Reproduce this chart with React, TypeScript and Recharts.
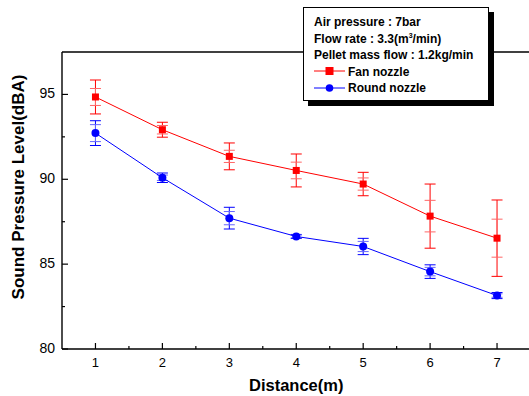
import React from 'react';
import { ComposedChart, Line, XAxis, YAxis, ErrorBar, Legend } from 'recharts';

const distance = [1, 2, 3, 4, 5, 6, 7];
const fanNozzle = [94.85, 92.92, 91.35, 90.52, 89.72, 87.83, 86.53];
const fanOuterErr = [1.0, 0.44, 0.79, 0.97, 0.69, 1.89, 2.25];
const fanInnerErr = [0.5, 0.25, 0.36, 0.49, 0.36, 0.93, 1.12];
const roundNozzle = [92.72, 90.09, 87.71, 86.63, 86.04, 84.56, 83.15];
const roundOuterErr = [0.73, 0.28, 0.64, 0.12, 0.48, 0.4, 0.18];
const roundInnerErr = [0.5, 0.16, 0.39, 0.08, 0.3, 0.25, 0.1];

const xTicks = [1, 1.5, 2, 2.5, 3, 3.5, 4, 4.5, 5, 5.5, 6, 6.5, 7];
const yTicks = [80, 82.5, 85, 87.5, 90, 92.5, 95];
const majorYTicks = [80, 85, 90, 95];

const legendHeaderLines = ['Air pressure : 7bar', 'Flow rate : 3.3(m', 'Pellet mass flow : 1.2kg/min'];

const data = distance.map((d, i) => ({
  distance: d,
  fan: fanNozzle[i],
  fanOuter: fanOuterErr[i],
  fanInner: fanInnerErr[i],
  round: roundNozzle[i],
  roundOuter: roundOuterErr[i],
  roundInner: roundInnerErr[i],
}));

const FONT = '"Liberation Sans", Arial, Helvetica, sans-serif';
const RED = '#ff0000';
const BLUE = '#0000ff';
const RED_LIGHT = '#ff6666';
const BLUE_LIGHT = '#6666ff';

const XTick = (props: any) => {
  const { x, y, payload } = props;
  const v = payload.value;
  const major = Number.isInteger(v);
  return (
    <g>
      <line x1={x} x2={x} y1={y} y2={y - (major ? 6 : 3)} stroke="#000" strokeWidth={1.2} />
      {major && (
        <text x={x} y={y + 17.5} textAnchor="middle" fontSize={13} fontFamily={FONT} fill="#000">
          {v}
        </text>
      )}
    </g>
  );
};

const YTick = (props: any) => {
  const { x, y, payload } = props;
  const v = payload.value;
  const major = majorYTicks.includes(v);
  return (
    <g>
      <line x1={x} x2={x + (major ? 6 : 3)} y1={y} y2={y} stroke="#000" strokeWidth={1.2} />
      {major && (
        <text x={x - 7} y={y + 4} textAnchor="end" fontSize={14} fontFamily={FONT} fill="#000">
          {v}
        </text>
      )}
    </g>
  );
};

const SquareDot = (props: any) => {
  const { cx, cy, index } = props;
  if (cx == null || cy == null) return <g key={`sq-${index}`} />;
  return <rect key={`sq-${index}`} x={cx - 3.5} y={cy - 3.5} width={7} height={7} fill={RED} />;
};

const CircleDot = (props: any) => {
  const { cx, cy, index } = props;
  if (cx == null || cy == null) return <g key={`ci-${index}`} />;
  return <circle key={`ci-${index}`} cx={cx} cy={cy} r={4} fill={BLUE} />;
};

const YTitle = () => (
  <text
    x={24}
    y={187}
    transform="rotate(-90, 24, 187)"
    textAnchor="middle"
    fontSize={17}
    fontWeight="bold"
    fontFamily={FONT}
    fill="#000"
  >
    Sound Pressure Level(dBA)
  </text>
);

const XTitle = (props: any) => {
  const vb = props.viewBox || { x: 62, width: 468 };
  return (
    <text
      x={vb.x + vb.width / 2}
      y={391}
      textAnchor="middle"
      fontSize={16.5}
      fontWeight="bold"
      fontFamily={FONT}
      fill="#000"
    >
      Distance(m)
    </text>
  );
};

const LegendIcon = ({ color, shape }: { color: string; shape: 'square' | 'circle' }) => (
  <svg width={31} height={10} style={{ display: 'inline-block', verticalAlign: 'middle', marginRight: 3, marginTop: -2 }}>
    <line x1={0} x2={31} y1={5} y2={5} stroke={color} strokeWidth={1} />
    {shape === 'square' ? (
      <rect x={11.5} y={1} width={8} height={8} fill={color} />
    ) : (
      <circle cx={15.5} cy={5} r={3.8} fill={color} />
    )}
  </svg>
);

const LegendBox = () => (
  <div
    style={{
      boxSizing: 'border-box',
      width: 186,
      height: 94,
      border: '1px solid #000',
      background: '#fff',
      boxShadow: '5px 5px 0 #000',
      padding: '6px 0 0 10px',
      fontFamily: FONT,
      fontWeight: 'bold',
      fontSize: 12,
      lineHeight: '16.5px',
      color: '#000',
      whiteSpace: 'nowrap',
      textAlign: 'left',
    }}
  >
    <div>{legendHeaderLines[0]}</div>
    <div>
      {legendHeaderLines[1]}
      <sup style={{ fontSize: 7, lineHeight: 0, verticalAlign: 'super' }}>3</sup>/min)
    </div>
    <div>{legendHeaderLines[2]}</div>
    <div>
      <LegendIcon color={RED} shape="square" />
      Fan nozzle
    </div>
    <div>
      <LegendIcon color={BLUE} shape="circle" />
      Round nozzle
    </div>
  </div>
);

export default function App() {
  return (
    <div style={{ position: 'absolute', left: 0, top: 0, width: 529, height: 396, overflow: 'hidden', background: '#fff' }}>
      <ComposedChart
        width={545}
        height={396}
        data={data}
        margin={{ top: 0, left: 0, right: 14.5, bottom: 0 }}
      >
        <XAxis
          dataKey="distance"
          type="number"
          domain={[0.5, 7.5]}
          ticks={xTicks}
          interval={0}
          height={47}
          tickSize={0}
          tickMargin={0}
          tick={<XTick />}
          tickLine={false}
          axisLine={{ stroke: '#000', strokeWidth: 1.4 }}
          allowDataOverflow
          label={<XTitle />}
        />
        <XAxis
          xAxisId="top"
          orientation="top"
          dataKey="distance"
          type="number"
          domain={[0.5, 7.5]}
          height={52}
          tick={false}
          tickLine={false}
          axisLine={{ stroke: '#000', strokeWidth: 1.4 }}
        />
        <YAxis
          type="number"
          domain={[80, 97.5]}
          ticks={yTicks}
          interval={0}
          width={62}
          tickSize={0}
          tickMargin={0}
          tick={<YTick />}
          tickLine={false}
          axisLine={{ stroke: '#000', strokeWidth: 1.4 }}
          allowDataOverflow
          label={<YTitle />}
        />
        <Legend
          verticalAlign="middle"
          align="center"
          content={<LegendBox />}
          wrapperStyle={{ position: 'absolute', left: 303, top: 7, width: 186, height: 94, margin: 0 }}
        />
        <Line
          dataKey="fan"
          stroke={RED}
          strokeWidth={1}
          dot={SquareDot}
          activeDot={false}
          isAnimationActive={false}
          legendType="square"
          name="Fan nozzle"
        >
          <ErrorBar dataKey="fanOuter" width={5.5} stroke={RED} strokeWidth={1} direction="y" isAnimationActive={false} />
          <ErrorBar dataKey="fanInner" width={5.5} stroke={RED_LIGHT} strokeWidth={1} direction="y" isAnimationActive={false} />
        </Line>
        <Line
          dataKey="round"
          stroke={BLUE}
          strokeWidth={1}
          dot={CircleDot}
          activeDot={false}
          isAnimationActive={false}
          legendType="circle"
          name="Round nozzle"
        >
          <ErrorBar dataKey="roundOuter" width={5.5} stroke={BLUE} strokeWidth={1} direction="y" isAnimationActive={false} />
          <ErrorBar dataKey="roundInner" width={5.5} stroke={BLUE_LIGHT} strokeWidth={1} direction="y" isAnimationActive={false} />
        </Line>
      </ComposedChart>
    </div>
  );
}
